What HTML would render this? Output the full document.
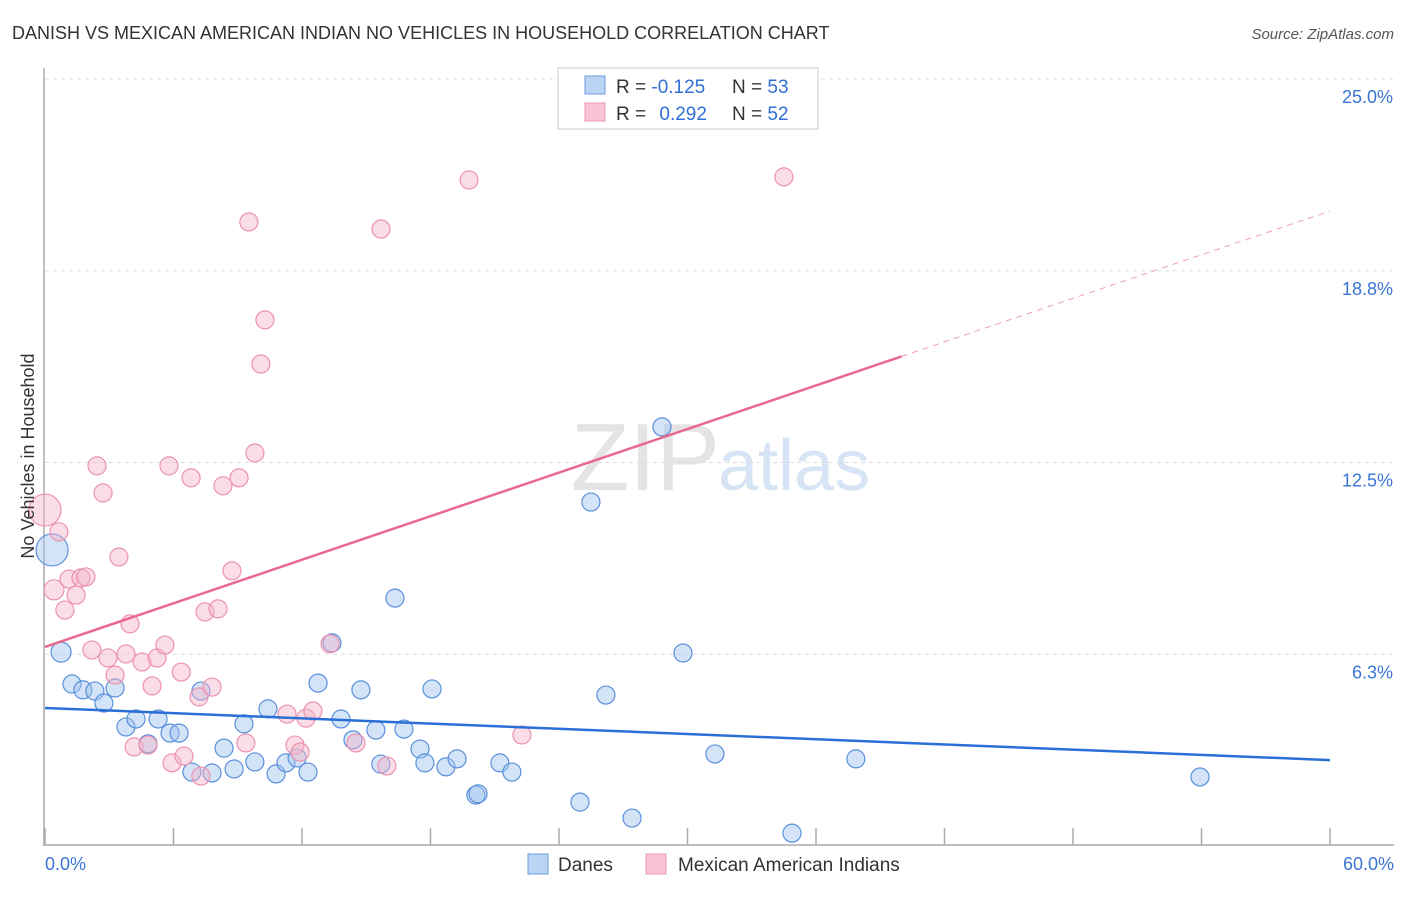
<!DOCTYPE html>
<html><head><meta charset="utf-8"><style>
body{margin:0;background:#fff;font-family:"Liberation Sans",sans-serif;}
svg text{font-family:"Liberation Sans",sans-serif;}
</style></head><body>
<svg id="chart" width="1406" height="892">
<text x="12" y="39" font-size="18" fill="#333">DANISH VS MEXICAN AMERICAN INDIAN NO VEHICLES IN HOUSEHOLD CORRELATION CHART</text>
<text x="1394" y="39" font-size="15" fill="#555" text-anchor="end" font-style="italic">Source: ZipAtlas.com</text>
<text x="720" y="490" font-size="96" fill="#e4e4e4" text-anchor="end" font-family="Liberation Serif">ZIP</text>
<text x="718" y="490" font-size="72" fill="#d6e4f5">atlas</text>
<g id="grid"></g><g id="axes"></g><g id="marks"></g>
<text transform="translate(34,456) rotate(-90)" font-size="18" fill="#333" text-anchor="middle">No Vehicles in Household</text>
<g>
<rect x="558" y="68" width="260" height="61" fill="#fff" stroke="#ccc"/>
<rect x="585" y="76" width="20" height="18" fill="#bcd4f4" stroke="#6e9de0"/>
<rect x="585" y="103" width="20" height="18" fill="#f9c5d4" stroke="#ec98b2"/>
<text x="616" y="93" font-size="19" fill="#333">R = <tspan fill="#2f6fd6">-0.125</tspan><tspan x="732">N = </tspan><tspan fill="#2f6fd6">53</tspan></text>
<text x="616" y="120" font-size="19" fill="#333">R = <tspan fill="#2f6fd6" dx="8">0.292</tspan><tspan x="732">N = </tspan><tspan fill="#2f6fd6">52</tspan></text>
</g>
<g>
<rect x="528" y="854" width="20" height="20" fill="#bcd4f4" stroke="#6e9de0"/>
<text x="558" y="871" font-size="19" fill="#333">Danes</text>
<rect x="646" y="854" width="20" height="20" fill="#f9c5d4" stroke="#ec98b2"/>
<text x="678" y="871" font-size="19" fill="#333">Mexican American Indians</text>
</g>
</svg>
<script>
const blueX=[0.33,0.75,1.26,1.77,2.33,2.75,3.27,3.78,4.25,4.81,5.28,5.84,6.26,6.86,7.28,7.80,8.36,8.83,9.29,9.80,10.41,10.79,11.25,11.77,12.28,12.75,13.40,13.82,14.38,14.75,15.45,15.68,16.34,16.76,17.51,17.74,18.07,18.72,19.24,20.12,20.22,21.24,21.80,24.98,25.49,26.19,27.41,28.81,29.79,31.28,34.88,37.86,53.93];
const blueY=[9.65,6.32,5.28,5.09,5.05,4.66,5.15,3.88,4.14,3.33,4.14,3.68,3.68,2.41,5.05,2.38,3.19,2.51,3.98,2.74,4.47,2.35,2.71,2.87,2.41,5.31,6.62,4.14,3.46,5.09,3.78,2.67,8.08,3.81,3.16,2.71,5.12,2.58,2.84,1.66,1.70,2.71,2.41,1.43,11.21,4.92,0.91,13.66,6.29,3.0,0.42,2.84,2.25];
const blueR=[16,10];
const pinkX=[0,0.42,0.65,0.93,1.12,1.45,1.68,1.91,2.19,2.43,2.71,2.94,3.27,3.45,3.78,3.97,4.16,4.53,4.81,5.0,5.23,5.60,5.79,5.93,6.36,6.49,6.82,7.19,7.28,7.47,7.80,8.08,8.31,8.73,9.06,9.38,9.52,9.80,10.08,10.27,11.30,11.67,11.91,12.19,12.51,13.31,14.52,15.69,15.96,19.80,22.27,34.50];
const pinkY=[10.95,8.35,10.24,7.69,8.70,8.18,8.74,8.77,6.39,12.39,11.51,6.13,5.57,9.42,6.26,7.24,3.23,6.0,3.29,5.22,6.13,6.55,12.39,2.71,5.67,2.93,12.0,4.86,2.28,7.63,5.18,7.73,11.74,8.97,12.0,3.36,20.34,12.81,15.71,17.15,4.30,3.29,3.06,4.17,4.40,6.59,3.36,20.11,2.61,21.71,3.62,21.81];
const pinkR=[16,10,9];
const blueTrend=[4.50,2.80];
const pinkTrend=[6.49,0.2367];
const yTicks=[25,18.75,12.5,6.25];
const yTickLabels=["25.0%","18.8%","12.5%","6.3%"];
const xTicks=[0,6,12,18,24,30,36,42,48,54,60];
const NS="http://www.w3.org/2000/svg";
const X0=45,X1=1330,YB=846,YT=79;
const sx=v=>X0+(v/60)*(X1-X0);
const sy=v=>YB-(v/25)*(YB-YT);
function mk(tag,attrs,parent){const e=document.createElementNS(NS,tag);for(const k in attrs)e.setAttribute(k,attrs[k]);parent.appendChild(e);return e;}
const grid=document.getElementById('grid'),axes=document.getElementById('axes'),marks=document.getElementById('marks');
yTicks.forEach((t,i)=>{
 const l=mk('line',{x1:X0,x2:1394,y1:sy(t),y2:sy(t),stroke:'#ddd','stroke-dasharray':'4,4'},grid);
 
 
 const tx=mk('text',{x:1393,y:sy(t)+24,'font-size':18,fill:'#3a75d4','text-anchor':'end'},axes);
 tx.textContent=yTickLabels[i];
 
 
});
const ya=mk('line',{x1:44,x2:44,y1:68,y2:846,stroke:'#aaa','stroke-width':1.5},axes);


const xa=mk('line',{x1:44,x2:1394,y1:845,y2:845,stroke:'#aaa','stroke-width':1.5},axes);


xTicks.forEach(t=>{
 const l=mk('line',{x1:sx(t),x2:sx(t),y1:828,y2:845,stroke:'#aaa','stroke-width':1.5},axes);
 
 
});
const xl0=mk('text',{x:45,y:870,'font-size':18,fill:'#3a75d4'},axes);xl0.textContent='0.0%';


const xl1=mk('text',{x:1394,y:870,'font-size':18,fill:'#3a75d4','text-anchor':'end'},axes);xl1.textContent='60.0%';


blueX.forEach((x,i)=>{
 const c=mk('circle',{cx:sx(x),cy:sy(blueY[i]),r:blueR[i]||9,fill:'rgba(160,195,240,0.45)',stroke:'#5a8fdc','stroke-width':1.2},marks);
 
 
});
pinkX.forEach((x,i)=>{
 const c=mk('circle',{cx:sx(x),cy:sy(pinkY[i]),r:pinkR[i]||9,fill:'rgba(245,180,200,0.45)',stroke:'#ec92ae','stroke-width':1.2},marks);
 
 
});
const bl=mk('line',{x1:sx(0),y1:sy(blueTrend[0]),x2:sx(60),y2:sy(blueTrend[1]),stroke:'#2a6fd6','stroke-width':2.5},marks);


const pl=mk('line',{x1:sx(0),y1:sy(pinkTrend[0]),x2:sx(40),y2:sy(pinkTrend[0]+pinkTrend[1]*40),stroke:'#e8688f','stroke-width':2.5},marks);


const pd=mk('line',{x1:sx(40),y1:sy(pinkTrend[0]+pinkTrend[1]*40),x2:sx(60),y2:sy(pinkTrend[0]+pinkTrend[1]*60),stroke:'#eca0b8','stroke-width':1,'stroke-dasharray':'6,5'},marks);


</script>
</body></html>
